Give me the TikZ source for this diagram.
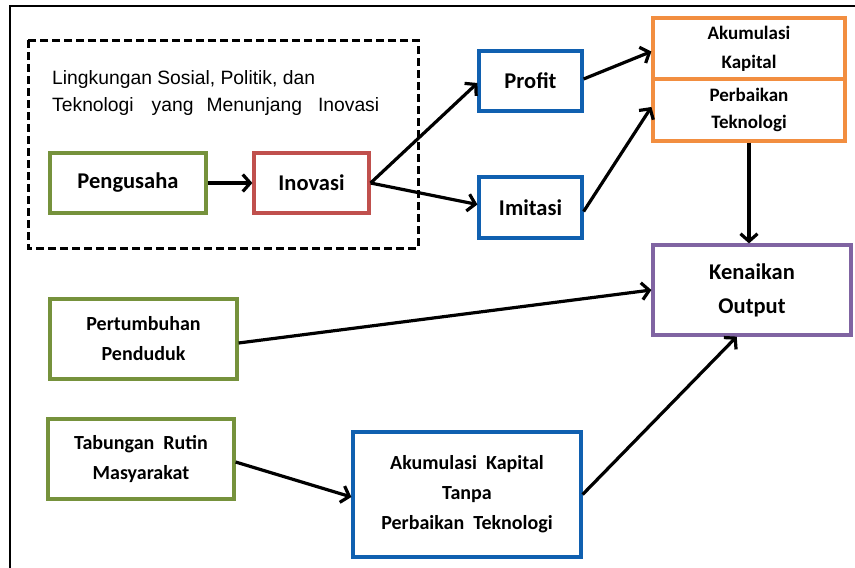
\documentclass[tikz,border=0pt]{standalone}
\usepackage{fontspec}
\setmainfont{Carlito}
\newfontfamily\arialf{Liberation Sans}
\usetikzlibrary{arrows.meta,calc}
\definecolor{cgreen}{RGB}{118,146,60}
\definecolor{cred}{RGB}{192,80,77}
\definecolor{cblue}{RGB}{16,96,176}
\definecolor{corange}{RGB}{242,142,64}
\definecolor{cpurple}{RGB}{128,100,162}
\begin{document}
\begin{tikzpicture}[x=1pt,y=-1pt,
  box/.style={draw,line width=3.2pt,inner sep=0pt,align=center,font=\bfseries\fontsize{20}{30}\selectfont},
  big/.style={font=\bfseries\fontsize{22.5}{34}\selectfont},
  arr/.style={line width=3.2pt,-{Straight Barb[length=7.5pt,width=17pt]}}
]
\useasboundingbox (0,0) rectangle (855,568);
% outer frame (partly visible)
\draw[line width=2.4pt] (10,568) -- (10,6) -- (855,6);
% dashed environment box
\draw[line width=3pt,dash pattern=on 8pt off 4pt] (28,40) rectangle (418,248);
\node[anchor=west,align=left,font=\arialf\fontsize{19.3}{27}\selectfont,inner sep=0pt] (env) at (52,93.5)
  {Lingkungan Sosial, Politik, dan\\Teknologi\hspace{18pt}yang\hspace{13pt}Menunjang\hspace{16pt}Inovasi};

\node[box,big,draw=cgreen,minimum width=156pt,minimum height=60pt] (peng) at (128,183) {Pengusaha};
\node[box,big,draw=cred,minimum width=115pt,minimum height=60pt] (inov) at (311.5,183) {Inovasi};
\node[box,big,draw=cblue,minimum width=103pt,minimum height=60pt] (prof) at (530.5,81) {Profit};
\node[box,big,draw=cblue,minimum width=103pt,minimum height=61pt] (imit) at (530.5,207.5) {Imitasi};
\node[box,draw=corange,minimum width=192pt,minimum height=61pt,font=\bfseries\fontsize{19}{29}\selectfont] (akum) at (749,48.5) {Akumulasi\\Kapital};
\node[box,draw=corange,minimum width=192pt,minimum height=62pt,font=\bfseries\fontsize{19}{27}\selectfont] (perb) at (749,110) {Perbaikan\\Teknologi};
\node[box,big,draw=cpurple,minimum width=198pt,minimum height=90pt] (ken) at (752,290) {Kenaikan\\Output};
\node[box,draw=cgreen,minimum width=187pt,minimum height=80pt] (pert) at (143.5,339) {Pertumbuhan\\Penduduk};
\node[box,draw=cgreen,minimum width=186pt,minimum height=80pt] (tab) at (141,459) {Tabungan\ \ Rutin\\Masyarakat};
\node[box,draw=cblue,minimum width=228pt,minimum height=125pt] (akt) at (467,494.5) {Akumulasi\ \ Kapital\\Tanpa\\Perbaikan\ \ Teknologi};

\coordinate (kenin) at ($(ken.south west)!0.424!(ken.south east)$);

\draw[arr] (peng.east) -- (inov.west);
\draw[arr] (inov.east) -- ($(prof.west)+(0,2)$);
\draw[arr] (inov.east) -- ($(imit.west)+(0,-3)$);
\draw[arr] ($(prof.east)+(0,-2)$) -- ($(akum.west)+(0,3)$);
\draw[arr] ($(imit.east)+(0,4)$) -- ($(perb.west)+(0,-3)$);
\draw[arr] (perb.south) -- (perb.south |- ken.north);
\draw[arr] ($(pert.east)+(0,4)$) -- (ken.west);
\draw[arr] ($(tab.east)+(0,3)$) -- ($(akt.west)+(0,2.5)$);
\draw[arr] (akt.east) -- (kenin);
\end{tikzpicture}
\end{document}
